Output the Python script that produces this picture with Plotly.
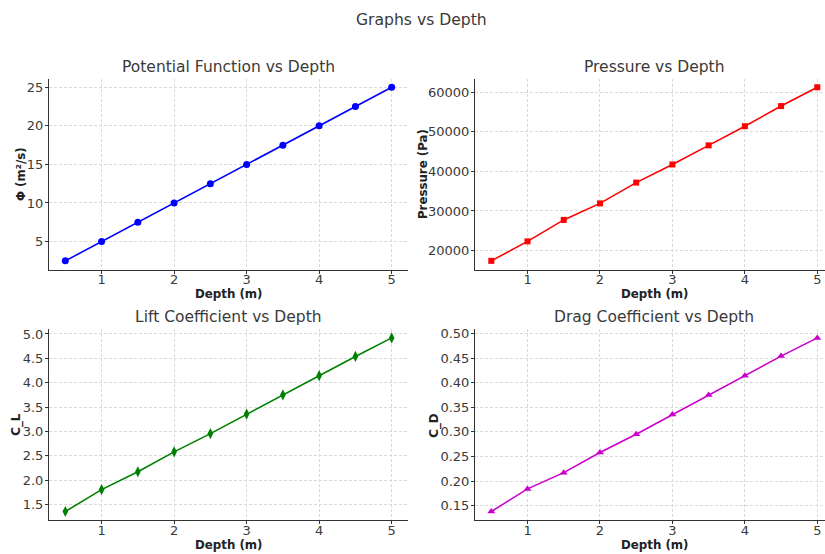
import plotly.graph_objects as go

# ---------------- data ----------------
depth = [0.5, 1.0, 1.5, 2.0, 2.5, 3.0, 3.5, 4.0, 4.5, 5.0]
phi = [2.5, 5.0, 7.5, 10.0, 12.5, 15.0, 17.5, 20.0, 22.5, 25.0]
pressure = [17400, 22330, 27750, 31920, 37170, 41750, 46580, 51420, 56500, 61250]
lift_coef = [1.357, 1.806, 2.173, 2.581, 2.955, 3.356, 3.750, 4.144, 4.539, 4.919]
drag_coef = [0.138, 0.184, 0.217, 0.258, 0.295, 0.335, 0.375, 0.414, 0.454, 0.491]

titles = ["Potential Function vs Depth", "Pressure vs Depth",
          "Lift Coefficient vs Depth", "Drag Coefficient vs Depth"]
ylabels = ["Φ (m²/s)", "Pressure (Pa)", "C_L", "C_D"]
xlabel = "Depth (m)"
suptitle = "Graphs vs Depth"

W, H = 825, 554
FONT = "DejaVu Sans"
TXT = "#3a3a3a"

series = [
    (phi, "#0000ff", "circle", 7),
    (pressure, "#ff0000", "square", 6),
    (lift_coef, "#008000", "diamond-tall", 8),
    (drag_coef, "#cc00cc", "triangle-up", 7),
]

# pixel layout of axes boxes (left, right, top, bottom)
boxes = [
    (49, 408, 76, 268),
    (475, 833.6, 76, 268),
    (49, 408, 328, 520),
    (475, 833.6, 328, 520),
]
ylab_x = [21, 423, 17, 435]
ytick_vals = [
    [5, 10, 15, 20, 25],
    [20000, 30000, 40000, 50000, 60000],
    [1.5, 2.0, 2.5, 3.0, 3.5, 4.0, 4.5, 5.0],
    [0.15, 0.20, 0.25, 0.30, 0.35, 0.40, 0.45, 0.50],
]
ytick_fmt = ["d", "d", ".1f", ".2f"]


def px(x):
    return x / W


def py(y):
    return 1 - y / H


def pad(vals, frac=0.05):
    lo, hi = min(vals), max(vals)
    s = hi - lo
    return lo - frac * s, hi + frac * s


fig = go.Figure()
annotations = []
xlo, xhi = pad(depth)

for i, ((yv, col, sym, ms), (l, r, t, b)) in enumerate(zip(series, boxes)):
    n = "" if i == 0 else str(i + 1)
    rr = min(r, W)
    # keep the same scale when the box is clipped at the right border
    xr = [xlo, xlo + (xhi - xlo) * (rr - l) / (r - l)]
    fig.add_trace(go.Scatter(
        x=depth, y=yv, mode="lines+markers",
        line=dict(color=col, width=1.6),
        marker=dict(color=col, symbol=sym, size=ms, line=dict(width=0)),
        xaxis="x" + n, yaxis="y" + n, showlegend=False, cliponaxis=False,
    ))
    common = dict(
        showline=True, linecolor="#333333", linewidth=1.1,
        ticks="outside", ticklen=3, tickcolor="#333333", tickwidth=1,
        showgrid=True, gridcolor="#dadada", gridwidth=0.8, griddash="3px,2px",
        zeroline=False, mirror=False,
        tickfont=dict(family=FONT, size=13, color=TXT),
    )
    fig.layout["xaxis" + n] = dict(
        domain=[px(l), px(rr)], range=xr, anchor="y" + n,
        tickvals=[1, 2, 3, 4, 5], ticklabelstandoff=-5, **common)
    fig.layout["yaxis" + n] = dict(
        domain=[py(b), py(t)], range=list(pad(yv)), anchor="x" + n,
        tickvals=ytick_vals[i], tickformat=ytick_fmt[i], ticklabelstandoff=-1,
        **common)

    cx = (l + r) / 2
    annotations.append(dict(
        text=titles[i], x=px(cx), y=py(t - 12), xref="paper", yref="paper",
        xanchor="center", yanchor="middle", showarrow=False,
        font=dict(family=FONT, size=15.5, color=TXT)))
    annotations.append(dict(
        text="<b>" + xlabel + "</b>", x=px(cx), y=py(b + 25),
        xref="paper", yref="paper", xanchor="center", yanchor="middle",
        showarrow=False, font=dict(family=FONT, size=11.8, color="#222222")))
    annotations.append(dict(
        text="<b>" + ylabels[i] + "</b>", x=px(ylab_x[i]), y=py((t + b) / 2),
        xref="paper", yref="paper", xanchor="center", yanchor="middle",
        textangle=-90, showarrow=False,
        font=dict(family=FONT, size=11.8, color="#222222")))

annotations.append(dict(
    text=suptitle, x=px(422), y=py(17), xref="paper", yref="paper",
    xanchor="center", yanchor="middle", showarrow=False,
    font=dict(family=FONT, size=15.6, color=TXT)))

fig.update_layout(
    width=W, height=H, margin=dict(l=0, r=0, t=0, b=0),
    paper_bgcolor="white", plot_bgcolor="white",
    annotations=annotations,
)

fig.write_html(
    "out.html",
    config={"displayModeBar": False},
    post_script="document.body.style.margin='0';document.body.style.overflow='hidden';",
)
